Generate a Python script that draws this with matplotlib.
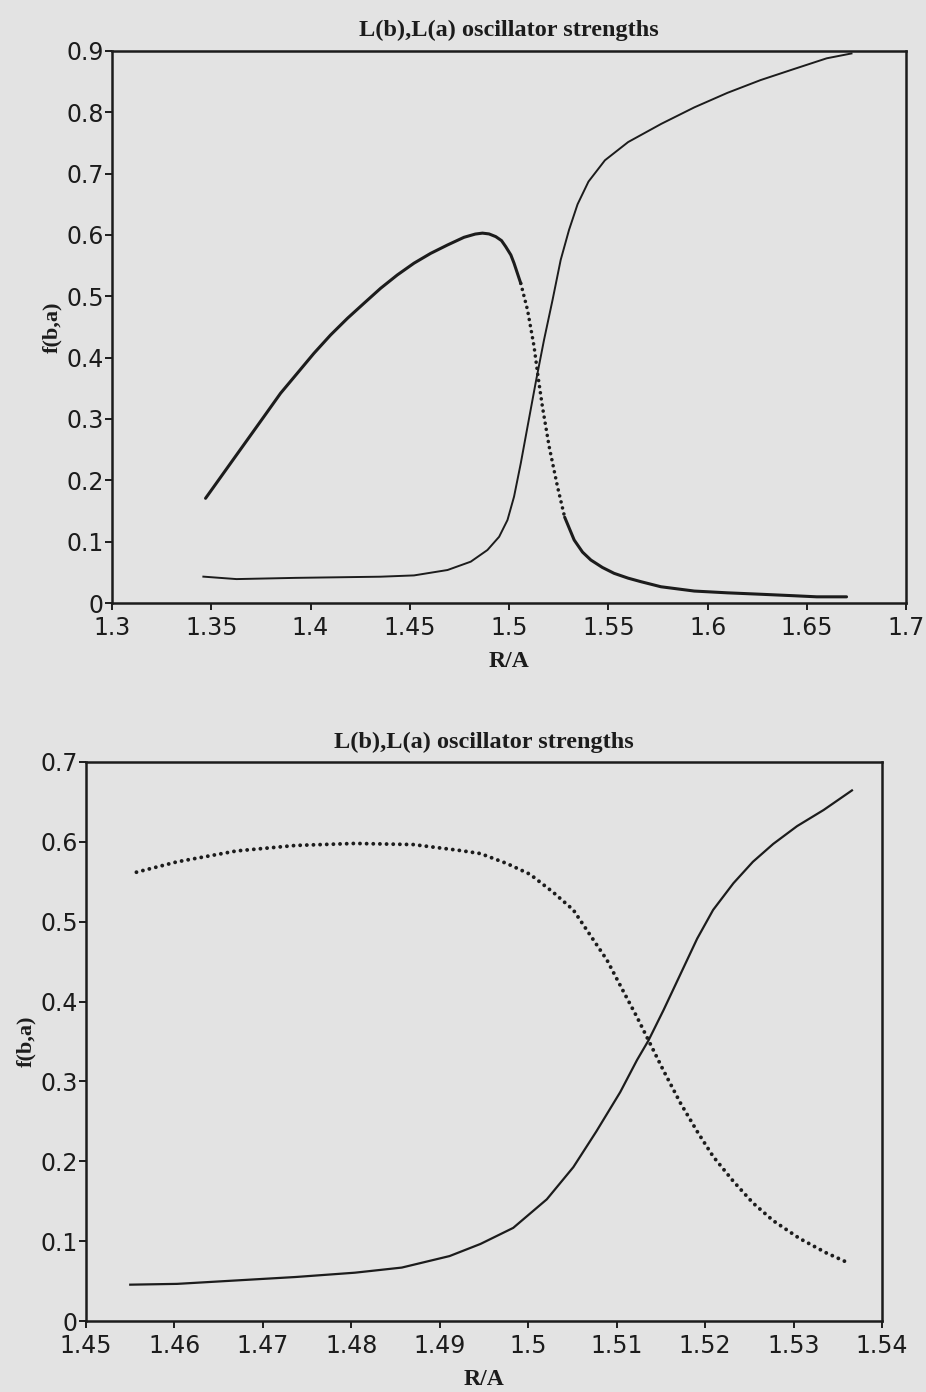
import matplotlib
matplotlib.use("Agg")
import matplotlib.pyplot as plt

# top panel, band that peaks near 0.6 (solid, dotted, solid)
top_b_x = [1.3471, 1.3513, 1.3597, 1.3681, 1.3765, 1.3849, 1.3933, 1.4017, 1.4101, 1.4186,
           1.4269, 1.4353, 1.4437, 1.4521, 1.4605, 1.4690, 1.4773, 1.4830, 1.4866, 1.4899,
           1.4933, 1.4962, 1.4983, 1.5009, 1.5025, 1.5059]
top_b_y = [0.1707, 0.1897, 0.2278, 0.2658, 0.3038, 0.3420, 0.3745, 0.4071, 0.4370, 0.4642,
           0.4886, 0.5131, 0.5348, 0.5540, 0.5700, 0.5837, 0.5962, 0.6015, 0.6030, 0.6017,
           0.5973, 0.5908, 0.5810, 0.5674, 0.5540, 0.5210]
top_bd_x = [1.5059, 1.5093, 1.5126, 1.5146, 1.5168, 1.5202, 1.5244, 1.5280]
top_bd_y = [0.5210, 0.4777, 0.4180, 0.3690, 0.3200, 0.2549, 0.1896, 0.1400]
top_bt_x = [1.5280, 1.5328, 1.5370, 1.5412, 1.5470, 1.5529, 1.5600, 1.5664, 1.5765, 1.5933,
            1.6100, 1.6267, 1.6433, 1.6550, 1.6700]
top_bt_y = [0.1400, 0.1027, 0.0830, 0.0701, 0.0580, 0.0484, 0.0405, 0.0348, 0.0265, 0.0195,
            0.0166, 0.0143, 0.0119, 0.0101, 0.0101]

# top panel, band that rises to 0.9
top_a_x = [1.3460, 1.3627, 1.3925, 1.4352, 1.4521, 1.4690, 1.4807, 1.4891, 1.4950, 1.4992,
           1.5025, 1.5059, 1.5093, 1.5135, 1.5176, 1.5219, 1.5260, 1.5302, 1.5345, 1.5400,
           1.5483, 1.5600, 1.5767, 1.5933, 1.6100, 1.6267, 1.6433, 1.6600, 1.6725]
top_a_y = [0.0430, 0.0390, 0.0410, 0.0429, 0.0450, 0.0538, 0.0674, 0.0864, 0.1080, 0.1353,
           0.1733, 0.2278, 0.2875, 0.3609, 0.4288, 0.4940, 0.5593, 0.6082, 0.6500, 0.6870,
           0.7218, 0.7515, 0.7812, 0.8080, 0.8317, 0.8525, 0.8703, 0.8880, 0.8959]

# bottom panel
bot_dot_x = [1.4557, 1.4603, 1.4670, 1.4737, 1.4804, 1.4870, 1.4924, 1.4946, 1.4976, 1.5002,
             1.5028, 1.5051, 1.5070, 1.5089, 1.5108, 1.5123, 1.5136, 1.5153, 1.5172, 1.5191,
             1.5209, 1.5232, 1.5254, 1.5277, 1.5307, 1.5337, 1.5362]
bot_dot_y = [0.5620, 0.5750, 0.5886, 0.5955, 0.5980, 0.5966, 0.5890, 0.5853, 0.5728, 0.5594,
             0.5370, 0.5147, 0.4833, 0.4520, 0.4118, 0.3805, 0.3514, 0.3134, 0.2731, 0.2374,
             0.2061, 0.1748, 0.1479, 0.1256, 0.1032, 0.0853, 0.0727]
bot_sol_x = [1.4550, 1.4603, 1.4670, 1.4737, 1.4804, 1.4857, 1.4911, 1.4946, 1.4983, 1.5021,
             1.5051, 1.5077, 1.5104, 1.5123, 1.5136, 1.5153, 1.5172, 1.5191, 1.5209, 1.5232,
             1.5254, 1.5277, 1.5304, 1.5334, 1.5366]
bot_sol_y = [0.0455, 0.0465, 0.0508, 0.0551, 0.0605, 0.0669, 0.0813, 0.0965, 0.1166, 0.1524,
             0.1927, 0.2374, 0.2866, 0.3268, 0.3514, 0.3894, 0.4341, 0.4788, 0.5147, 0.5482,
             0.5750, 0.5974, 0.6197, 0.6399, 0.6644]

top_xticks = [1.3, 1.35, 1.4, 1.45, 1.5, 1.55, 1.6, 1.65, 1.7]
top_yticks = [0, 0.1, 0.2, 0.3, 0.4, 0.5, 0.6, 0.7, 0.8, 0.9]
bot_xticks = [1.45, 1.46, 1.47, 1.48, 1.49, 1.5, 1.51, 1.52, 1.53, 1.54]
bot_yticks = [0, 0.1, 0.2, 0.3, 0.4, 0.5, 0.6, 0.7]

title = "L(b),L(a) oscillator strengths"
ink = "#1c1c1c"
paper = "#e3e3e3"
dots = (0, (0.01, 1.7))

fig = plt.figure(figsize=(9.26, 13.92), dpi=100, facecolor=paper)
ax1 = fig.add_axes([0.121, 0.5668, 0.8575, 0.3966])
ax2 = fig.add_axes([0.0929, 0.0510, 0.8596, 0.4016])

def style(ax, xt, yt, tpad):
    ax.set_facecolor(paper)
    ax.set_xlim(xt[0], xt[-1])
    ax.set_ylim(yt[0], yt[-1])
    ax.set_xticks(xt)
    ax.set_yticks(yt)
    ax.set_xticklabels(["%g" % v for v in xt], fontfamily="DejaVu Sans")
    ax.set_yticklabels(["%g" % v for v in yt], fontfamily="DejaVu Sans")
    for s in ax.spines.values():
        s.set_linewidth(1.8)
        s.set_color(ink)
    ax.tick_params(direction="out", length=5, width=1.4, color=ink,
                   labelsize=17, labelcolor=ink)
    ax.tick_params(axis="x", pad=4)
    ax.tick_params(axis="y", pad=1)
    ax.set_title(title, fontfamily="Liberation Serif", fontweight="bold",
                 fontsize=17.5, color=ink, pad=tpad)
    ax.set_xlabel("R/A", fontfamily="Liberation Serif", fontweight="bold",
                  fontsize=17, color=ink, labelpad=8)
    ax.set_ylabel("f(b,a)", fontfamily="Liberation Serif", fontweight="bold",
                  fontsize=16, color=ink, labelpad=3)

style(ax1, top_xticks, top_yticks, 11)
style(ax2, bot_xticks, bot_yticks, 10)

ax1.plot(top_b_x, top_b_y, color=ink, lw=2.2, solid_capstyle="round")
ax1.plot(top_bd_x, top_bd_y, color=ink, lw=2.6, linestyle=dots, dash_capstyle="round")
ax1.plot(top_bt_x, top_bt_y, color=ink, lw=2.2, solid_capstyle="round")
ax1.plot(top_a_x, top_a_y, color=ink, lw=1.4)

ax2.plot(bot_dot_x, bot_dot_y, color=ink, lw=2.8, linestyle=dots, dash_capstyle="round")
ax2.plot(bot_sol_x, bot_sol_y, color=ink, lw=1.6)

fig.savefig("out.png", dpi=100, facecolor=paper)
